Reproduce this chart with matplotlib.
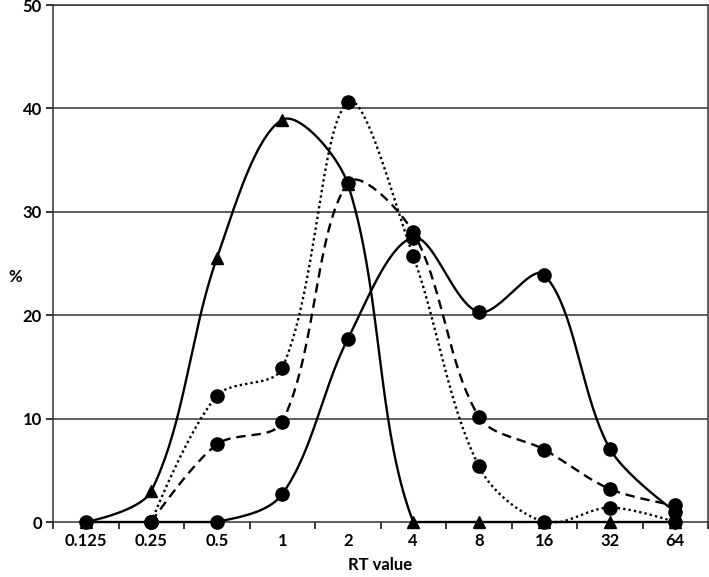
import numpy as np
import matplotlib
matplotlib.use("Agg")
import matplotlib.pyplot as plt

# categories on the x axis
rt_labels = ["0.125", "0.25", "0.5", "1", "2", "4", "8", "16", "32", "64"]

# series values (%), nan = no point
tri_solid = [0, 3.0, 25.5, 38.9, 32.7, 0, 0, 0, 0, 0]
circ_solid = [0, 0, 0, 2.7, 17.7, 27.5, 20.3, 23.9, 7.1, 1.0]
circ_dashed = [np.nan, 0, 7.5, 9.7, 32.8, 28.0, 10.2, 7.0, 3.2, 1.6]
circ_dotted = [np.nan, 0, 12.2, 14.9, 40.6, 25.7, 5.4, 0, 1.4, 0]

# rough pixel size of one x category / one y unit, used for smoothing shape
SX, SY = 65.5, 10.34


def smooth(y, n=40):
    # bezier smoothing done in screen space, handles scaled by segment length
    y = np.asarray(y, float)
    idx = np.where(~np.isnan(y))[0]
    P = np.column_stack([idx * SX, y[idx] * SY])
    k = len(P)
    d_in = np.zeros((k, 2))
    d_out = np.zeros((k, 2))
    for i in range(1, k - 1):
        v = P[i + 1] - P[i - 1]
        nv = np.linalg.norm(v)
        u = v / nv if nv > 0 else v
        l_in = np.linalg.norm(P[i] - P[i - 1])
        l_out = np.linalg.norm(P[i + 1] - P[i])
        f = nv / (l_in + l_out)
        d_in[i] = u * l_in * f / 3
        d_out[i] = u * l_out * f / 3
    # end points: no handle
    out = []
    t = np.linspace(0, 1, n)[:, None]
    for i in range(k - 1):
        p0, p3 = P[i], P[i + 1]
        p1 = p0 + d_out[i]
        p2 = p3 - d_in[i + 1]
        c = (1 - t)**3 * p0 + 3 * (1 - t)**2 * t * p1 + 3 * (1 - t) * t**2 * p2 + t**3 * p3
        out.append(c)
    c = np.vstack(out)
    # keep the curve from dipping under the axis
    return c[:, 0] / SX, np.maximum(c[:, 1] / SY, 0)


fig = plt.figure(figsize=(7.09, 5.77), dpi=100)
ax = fig.add_axes([0.0748, 0.0953, 0.9238, 0.896])

x = np.arange(len(rt_labels))
ax.set_xlim(-0.5, len(rt_labels) - 0.5)
ax.set_ylim(0, 50)

for v in [10, 20, 30, 40, 50]:
    ax.axhline(v, color="#333333", lw=1.1, zorder=1)

series = [
    (circ_dotted, (0, (1, 1.3)), "o"),
    (circ_dashed, (0, (4, 2.5)), "o"),
    (circ_solid, "-", "o"),
    (tri_solid, "-", "^"),
]
for vals, ls, mk in series:
    sx, sy = smooth(vals)
    ax.plot(sx, sy, color="black", lw=1.7, ls=ls, zorder=3, clip_on=False)
    ax.plot(x, vals, ls="none", marker=mk, color="black",
            ms=9.5 if mk == "o" else 9, zorder=4, clip_on=False)

font = dict(family=["Lato", "DejaVu Sans"], weight="bold", size=12)
ax.set_xticks(x)
ax.set_xticklabels(rt_labels, **font)
ax.set_xticks(np.arange(-0.5, len(rt_labels)), minor=True)
ax.tick_params(axis="x", which="major", length=0, pad=8)
ax.tick_params(axis="x", which="minor", length=5, width=1.1, direction="out")
ax.set_yticks([0, 10, 20, 30, 40, 50])
ax.set_yticklabels(["0", "10", "20", "30", "40", "50"], **font)
ax.tick_params(axis="y", length=5, width=1.1, direction="out", pad=3)

for side in ["left", "bottom", "right", "top"]:
    ax.spines[side].set_color("#333333")
    ax.spines[side].set_linewidth(1.1)

ax.set_xlabel("RT value", labelpad=6, **font)
fig.text(0.021, 0.52, "%", ha="center", va="center", **font)

fig.savefig("out.png", dpi=100)
